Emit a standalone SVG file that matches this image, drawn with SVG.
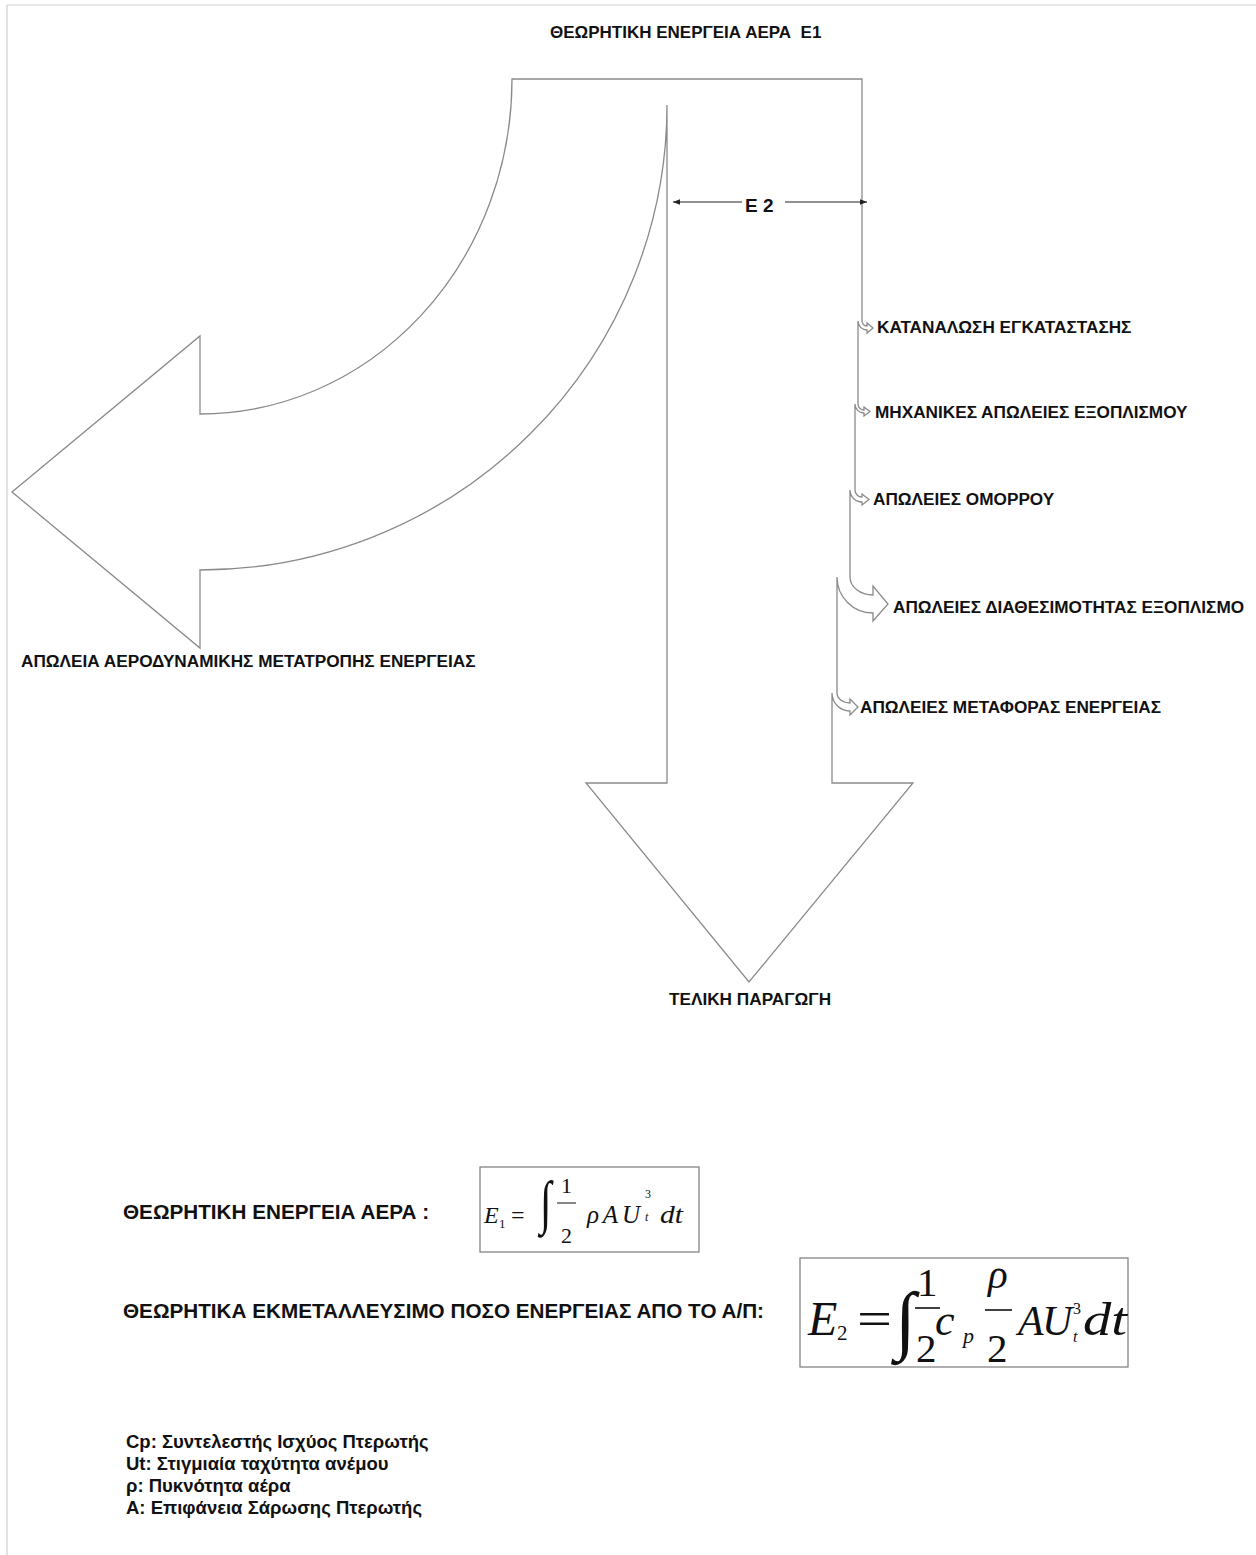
<svg xmlns="http://www.w3.org/2000/svg" width="1256" height="1555" viewBox="0 0 1256 1555">
<style>
.lbl{font-family:"Liberation Sans",Arial,sans-serif;font-weight:bold;fill:#111}
.d{font-size:17.2px}
.b{font-size:20.7px}
.lg{font-size:18.5px}
.m{font-family:"Liberation Serif","Times New Roman",serif;font-style:italic;fill:#111}
.mn{font-family:"Liberation Serif","Times New Roman",serif;fill:#111}
.outline{fill:#fff;stroke:#8a8a8a;stroke-width:1.3;stroke-linejoin:miter}
.box{fill:none;stroke:#7a7a7a;stroke-width:1.2}
.dim{stroke:#222;stroke-width:1;fill:none}
</style>
<defs>
<marker id="ah" viewBox="0 0 10 10" refX="10" refY="5" markerWidth="7" markerHeight="7" orient="auto-start-reverse" markerUnits="userSpaceOnUse">
<path d="M0,1 L10,5 L0,9 Z" fill="#222"/>
</marker>
</defs>
<rect width="1256" height="1555" fill="#fff"/>
<g id="page-border" stroke="#cfcfcf" stroke-width="1.2">
<line x1="7" y1="5" x2="1256" y2="5"/>
<line x1="7" y1="5" x2="7" y2="1555"/>
</g>
<g id="energy-flow">
<path class="outline" d="M512 79 H862 V321 A5 5 0 0 0 867 326 V323 L873 328 L867 333 V330 A9 9 0 0 1 858 321 V404 A6 6 0 0 0 864 410 V407 L870 411.5 L864 416 V413 A9 9 0 0 1 855 404 V490 A7 7 0 0 0 862 497 V494 L869 499.5 L862 505 V502 A12 12 0 0 1 850 490 V577 A23 18 0 0 0 873 595 V586 L888 604 L873 621 V613 A36 36 0 0 1 837 577 V693 A13 10 0 0 0 850 703 V699 L858 707 L850 715 V711 A18 18 0 0 1 832 693 V783 H913 L749 982 L586 783 H667 V105 A467 465 0 0 1 200 570 V648 L12 492 L200 336 V414 A312 335 0 0 0 512 79 Z"/>
</g>
<g id="connectors">
<line class="dim" x1="742" y1="202" x2="673" y2="202" marker-end="url(#ah)"/>
<line class="dim" x1="785" y1="202" x2="867" y2="202" marker-end="url(#ah)"/>
</g>
<g id="title"><text class="lbl" x="550" y="38" font-size="17" xml:space="preserve">ΘΕΩΡΗΤΙΚΗ ΕΝΕΡΓΕΙΑ ΑΕΡΑ  Ε1</text></g>
<g id="e2-label"><text class="lbl" x="745" y="212" font-size="19">E 2</text></g>
<g id="loss-consumption"><text class="lbl d" x="877" y="333">ΚΑΤΑΝΑΛΩΣΗ ΕΓΚΑΤΑΣΤΑΣΗΣ</text></g>
<g id="loss-mechanical"><text class="lbl d" x="875" y="418">ΜΗΧΑΝΙΚΕΣ ΑΠΩΛΕΙΕΣ ΕΞΟΠΛΙΣΜΟΥ</text></g>
<g id="loss-wake"><text class="lbl d" x="873" y="505">ΑΠΩΛΕΙΕΣ ΟΜΟΡΡΟΥ</text></g>
<g id="loss-availability"><text class="lbl d" x="893" y="613">ΑΠΩΛΕΙΕΣ ΔΙΑΘΕΣΙΜΟΤΗΤΑΣ ΕΞΟΠΛΙΣΜΟ</text></g>
<g id="loss-transfer"><text class="lbl d" x="860" y="713">ΑΠΩΛΕΙΕΣ ΜΕΤΑΦΟΡΑΣ ΕΝΕΡΓΕΙΑΣ</text></g>
<g id="loss-aero"><text class="lbl d" x="21" y="667">ΑΠΩΛΕΙΑ ΑΕΡΟΔΥΝΑΜΙΚΗΣ ΜΕΤΑΤΡΟΠΗΣ ΕΝΕΡΓΕΙΑΣ</text></g>
<g id="final-output"><text class="lbl d" x="669" y="1005">ΤΕΛΙΚΗ ΠΑΡΑΓΩΓΗ</text></g>
<g id="eq1-label"><text class="lbl b" x="123" y="1219">ΘΕΩΡΗΤΙΚΗ ΕΝΕΡΓΕΙΑ ΑΕΡΑ :</text></g>
<g id="eq1">
<rect class="box" x="480" y="1167" width="219" height="85"/>
<text class="m" x="484" y="1223" font-size="24">E</text>
<text class="mn" x="499" y="1228" font-size="13">1</text>
<text class="mn" x="511" y="1223" font-size="24">=</text>
<text class="mn" transform="translate(540,1222) scale(1,1.4)" font-size="42">∫</text>
<text class="mn" x="561" y="1193" font-size="22">1</text>
<line x1="557" y1="1203" x2="576" y2="1203" stroke="#111" stroke-width="1"/>
<text class="mn" x="561" y="1243" font-size="22">2</text>
<text class="m" x="587" y="1223" font-size="25" textLength="53" lengthAdjust="spacing">ρAU</text>
<text class="mn" x="645" y="1198" font-size="12">3</text>
<text class="m" x="645" y="1221" font-size="12">t</text>
<text class="m" x="660" y="1223" font-size="25" textLength="23" lengthAdjust="spacingAndGlyphs">dt</text>
</g>
<g id="eq2-label"><text class="lbl b" x="123" y="1318">ΘΕΩΡΗΤΙΚΑ ΕΚΜΕΤΑΛΛΕΥΣΙΜΟ ΠΟΣΟ ΕΝΕΡΓΕΙΑΣ ΑΠΟ ΤΟ Α/Π:</text></g>
<g id="eq2">
<rect class="box" x="800" y="1258" width="328" height="109"/>
<text class="m" x="808" y="1335" font-size="48">E</text>
<text class="mn" x="837" y="1340" font-size="21">2</text>
<text class="mn" x="857" y="1335" font-size="48" textLength="35" lengthAdjust="spacingAndGlyphs">=</text>
<text class="mn" x="895" y="1345" font-size="76">∫</text>
<text class="mn" x="917" y="1296" font-size="41">1</text>
<line x1="915" y1="1308" x2="940" y2="1308" stroke="#111" stroke-width="1.6"/>
<text class="mn" x="916" y="1362" font-size="41">2</text>
<text class="m" x="935" y="1335" font-size="44">c</text>
<text class="m" x="963" y="1343" font-size="22">p</text>
<text class="m" x="988" y="1288" font-size="41">ρ</text>
<line x1="985" y1="1310" x2="1012" y2="1310" stroke="#111" stroke-width="1.6"/>
<text class="mn" x="987" y="1362" font-size="41">2</text>
<text class="m" x="1018" y="1335" font-size="42">A</text>
<text class="m" x="1042" y="1335" font-size="42">U</text>
<text class="mn" x="1073" y="1314" font-size="16">3</text>
<text class="m" x="1073" y="1342" font-size="16">t</text>
<text class="m" x="1083" y="1335" font-size="46" textLength="44" lengthAdjust="spacingAndGlyphs">dt</text>
</g>
<g id="legend">
<text class="lbl lg" x="126" y="1448">Cp: Συντελεστής Ισχύος Πτερωτής</text>
<text class="lbl lg" x="126" y="1470">Ut: Στιγμιαία ταχύτητα ανέμου</text>
<text class="lbl lg" x="126" y="1492">ρ: Πυκνότητα αέρα</text>
<text class="lbl lg" x="126" y="1514">Α: Επιφάνεια Σάρωσης Πτερωτής</text>
</g>
</svg>
